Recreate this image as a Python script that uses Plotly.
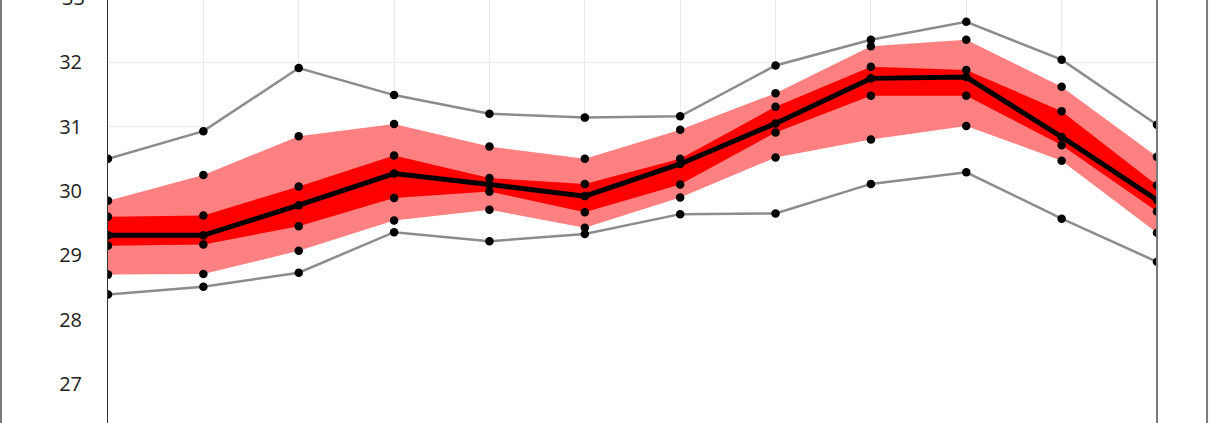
import plotly.graph_objects as go

categories = ["Jan", "Feb", "Mar", "Apr", "May", "Jun",
              "Jul", "Aug", "Sep", "Oct", "Nov", "Dec"]

max_vals   = [30.50, 30.93, 31.91, 31.49, 31.20, 31.14, 31.16, 31.95, 32.35, 32.63, 32.04, 31.03]
upper_outer = [29.85, 30.25, 30.85, 31.04, 30.69, 30.50, 30.95, 31.52, 32.25, 32.35, 31.62, 30.53]
upper_inner = [29.60, 29.62, 30.07, 30.55, 30.20, 30.11, 30.50, 31.31, 31.93, 31.88, 31.24, 30.09]
median_vals = [29.31, 29.31, 29.78, 30.27, 30.10, 29.92, 30.42, 31.05, 31.75, 31.77, 30.84, 29.86]
lower_inner = [29.15, 29.17, 29.45, 29.89, 29.99, 29.67, 30.10, 30.91, 31.48, 31.48, 30.71, 29.68]
lower_outer = [28.70, 28.71, 29.07, 29.54, 29.71, 29.43, 29.90, 30.52, 30.80, 31.01, 30.47, 29.35]
min_vals   = [28.39, 28.51, 28.73, 29.36, 29.22, 29.33, 29.64, 29.65, 30.11, 30.29, 29.57, 28.90]

y_ticks = [27, 28, 29, 30, 31, 32]

fig = go.Figure()

# white fill below the max line (hides gridlines)
fig.add_trace(go.Scatter(x=categories, y=max_vals, mode="lines", fill="tozeroy",
                         fillcolor="white", line=dict(width=0), hoverinfo="skip",
                         showlegend=False))

# outer band
fig.add_trace(go.Scatter(x=categories + categories[::-1],
                         y=upper_outer + lower_outer[::-1],
                         mode="lines", fill="toself", fillcolor="#ff8080",
                         line=dict(width=0), hoverinfo="skip", showlegend=False))
# inner band
fig.add_trace(go.Scatter(x=categories + categories[::-1],
                         y=upper_inner + lower_inner[::-1],
                         mode="lines", fill="toself", fillcolor="#ff0000",
                         line=dict(width=0), hoverinfo="skip", showlegend=False))

gray = "#8c8c8c"
fig.add_trace(go.Scatter(x=categories, y=max_vals, mode="lines+markers",
                         line=dict(color=gray, width=2.5),
                         marker=dict(color="black", size=8.5), showlegend=False))
fig.add_trace(go.Scatter(x=categories, y=min_vals, mode="lines+markers",
                         line=dict(color=gray, width=2.5),
                         marker=dict(color="black", size=8.5), showlegend=False))
for s in [upper_outer, upper_inner, lower_inner, lower_outer]:
    fig.add_trace(go.Scatter(x=categories, y=s, mode="markers",
                             marker=dict(color="black", size=8.5), showlegend=False))
fig.add_trace(go.Scatter(x=categories, y=median_vals, mode="lines+markers",
                         line=dict(color="black", width=5),
                         marker=dict(color="black", size=8.5), showlegend=False))

fig.update_layout(
    width=1210, height=423,
    margin=dict(l=108, r=53, t=0, b=0),
    paper_bgcolor="white", plot_bgcolor="white",
    font=dict(family="Open Sans, Noto Sans, sans-serif", size=20, color="#222222"),
    showlegend=False,
    xaxis=dict(type="category", range=[0, 11], showticklabels=False,
               showgrid=True, gridcolor="#ebebeb", gridwidth=1,
               showline=False, zeroline=False, ticks=""),
    yaxis=dict(range=[26.394, 32.968], tickvals=y_ticks,
               showgrid=True, gridcolor="#ebebeb", gridwidth=1,
               showline=True, linecolor="#333333", linewidth=1,
               zeroline=False, ticks="", ticklabelstandoff=21,
               tickfont=dict(size=20, color="#222222")),
)

# tick label at the top edge (partly cut off like the reference)
fig.add_annotation(x=0, y=1.0049, xref="paper", yref="paper", text="33",
                   showarrow=False, xanchor="right", yanchor="middle",
                   xshift=-21, font=dict(size=20, color="#222222"))

# frame lines
for xp, col, w in [(-0.1020, "#7a7a7a", 2), (1.0, "#7a7a7a", 2), (1.0477, "#7a7a7a", 2)]:
    fig.add_shape(type="line", xref="paper", yref="paper", x0=xp, x1=xp,
                  y0=-0.1, y1=1.1, line=dict(color=col, width=w), layer="above")

fig.write_html("out.html", config={"displayModeBar": False},
               post_script="document.body.style.margin='0';document.body.style.overflow='hidden';")
